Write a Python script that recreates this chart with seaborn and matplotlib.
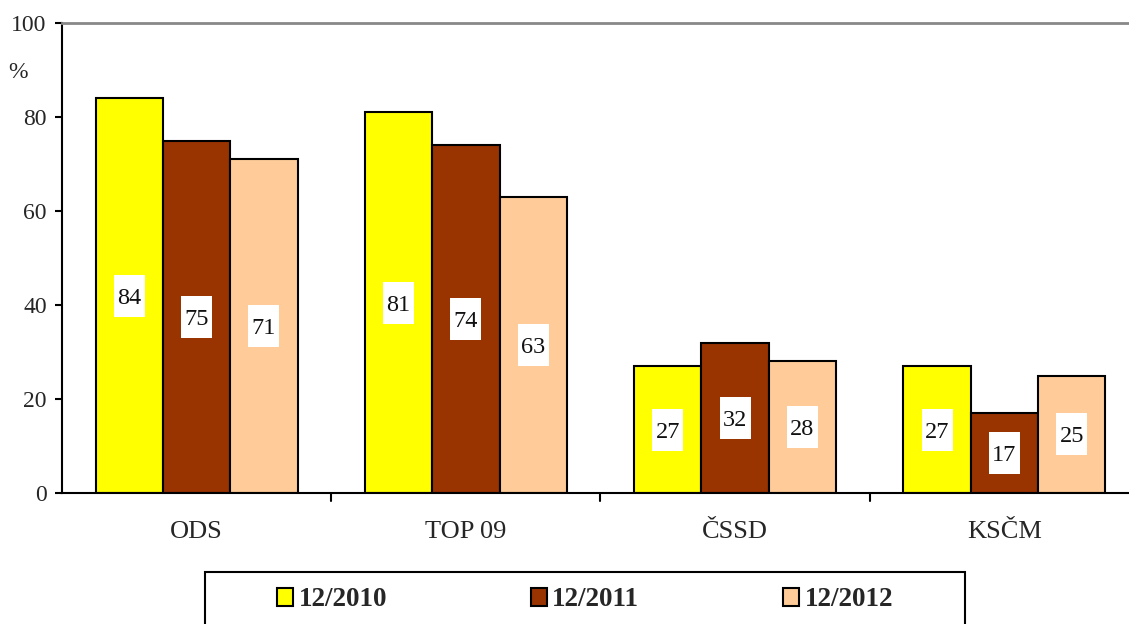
import matplotlib
matplotlib.use("Agg")
import matplotlib.pyplot as plt
import seaborn as sns
import pandas as pd
from matplotlib.patches import Rectangle

categories = ["ODS", "TOP 09", "ČSSD", "KSČM"]
series_names = ["12/2010", "12/2011", "12/2012"]
values_2010 = [84, 81, 27, 27]
values_2011 = [75, 74, 32, 17]
values_2012 = [71, 63, 28, 25]
colors = ["#FFFF00", "#993300", "#FFCC99"]
y_ticks = [0, 20, 40, 60, 80, 100]

rows = []
for name, vals in zip(series_names, [values_2010, values_2011, values_2012]):
    for c, v in zip(categories, vals):
        rows.append({"cat": c, "series": name, "value": v})
df = pd.DataFrame(rows)

sns.set_theme(style="white")
plt.rcParams["font.family"] = ["Liberation Serif", "DejaVu Serif"]

W, H = 1129, 624
fig = plt.figure(figsize=(W / 100, H / 100), dpi=100)
ax_w_px, ax_h_px = 1139 - 62, 493 - 23
ax = fig.add_axes([62 / W, 1 - 493 / H, ax_w_px / W, ax_h_px / H])

sns.barplot(data=df, x="cat", y="value", hue="series", order=categories,
            hue_order=series_names, palette=colors, width=0.75,
            edgecolor="black", linewidth=1.5, saturation=1, ax=ax, legend=False)

ax.set_xlim(-0.5, 3.5)
ax.set_ylim(0, 100)

# white label boxes (30 x 42 px) centred at half bar height
px_x = ax_w_px / 4.0
px_y = ax_h_px / 100.0
bw, bh = 31 / px_x, 42 / px_y
for cont in ax.containers:
    for bar in cont:
        h = bar.get_height()
        cx = bar.get_x() + bar.get_width() / 2
        ax.add_patch(Rectangle((cx - bw / 2, h / 2 - bh / 2), bw, bh, fc="white",
                               ec="none", zorder=5))
        ax.text(cx, h / 2, f"{int(round(h))}", ha="center", va="center_baseline",
                fontsize=17.5, color="#111111", zorder=6)

ax.set_yticks(y_ticks)
ax.set_yticklabels([str(t) for t in y_ticks], fontsize=17)
ax.set_xticks([0, 1, 2, 3])
ax.set_xticklabels(categories, fontsize=19)
ax.tick_params(axis="x", length=0, pad=20)
ax.tick_params(axis="y", direction="out", length=5, width=1.5, color="black", left=True, pad=6)
for xb in [0.5, 1.5, 2.5]:
    ax.plot([xb, xb], [0, -0.018], transform=ax.get_xaxis_transform(), color="black",
            lw=1.5, clip_on=False)
ax.set_xlabel("")
ax.set_ylabel("")
for s in ["left", "bottom"]:
    ax.spines[s].set_color("black")
    ax.spines[s].set_linewidth(1.5)
ax.spines["top"].set_color("#888888")
ax.spines["top"].set_linewidth(2)
ax.spines["right"].set_visible(False)

fig.text(18 / W, 1 - 73 / H, "%", fontsize=17, ha="center", va="center")

# legend
fig.patches.append(Rectangle((205 / W, -0.05), (965 - 205) / W, (1 - 572 / H) + 0.05,
                             transform=fig.transFigure, fill=False, ec="black", lw=1.5))
handles = [Rectangle((0, 0), 1, 1, fc=c, ec="black", lw=1.5) for c in colors]
leg = fig.legend(handles, series_names, loc="center", bbox_to_anchor=(585 / W, 1 - 600 / H),
                 ncol=3, frameon=False, prop={"weight": "bold", "size": 19.5},
                 handlelength=0.6, handleheight=0.6, handletextpad=0.2, columnspacing=5.3)

fig.savefig("out.png", dpi=100, facecolor="white")
